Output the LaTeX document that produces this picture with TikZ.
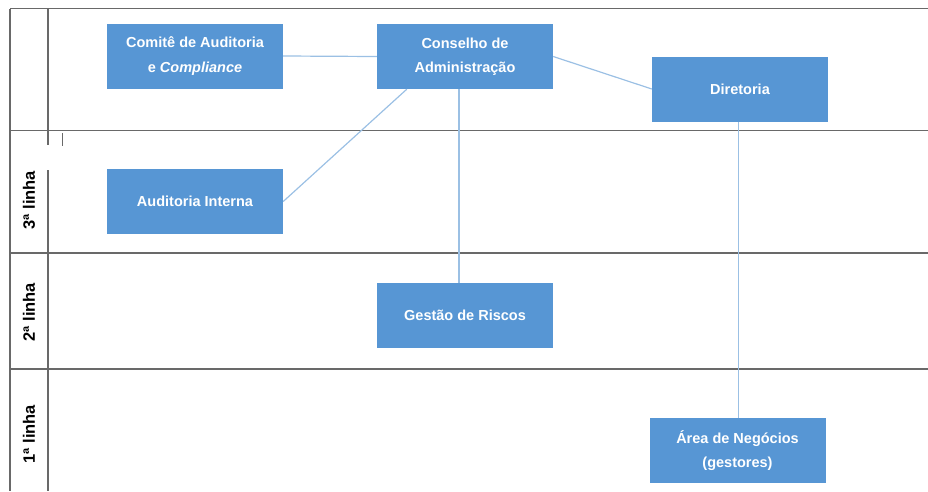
\documentclass[tikz,border=0pt]{standalone}
\usepackage{fontspec}
\setmainfont{Liberation Sans}
\definecolor{BoxBlue}{RGB}{87,150,212}
\definecolor{LinkBlue}{RGB}{155,192,228}
\definecolor{GridGray}{RGB}{105,105,105}
\usetikzlibrary{positioning,calc}
\tikzset{orgbox/.style={rectangle,fill=BoxBlue,text=white,minimum width=176pt,minimum height=65pt,inner sep=0pt,align=center,font=\bfseries\fontsize{14.5}{24.5}\selectfont}}
\tikzset{orglink/.style={LinkBlue,line width=1.2pt}}
\tikzset{gridline/.style={GridGray,line width=1.8pt}}
\tikzset{rowlabel/.style={rotate=90,font=\bfseries\fontsize{16.5}{18}\selectfont}}

\begin{document}
\begin{tikzpicture}[x=1pt,y=-1pt]
                \useasboundingbox (0,0) rectangle (928,491);
                % table
                \draw[gridline] (10,8.5) -- (928,8.5);
                \foreach \y in {130.5,253,369} {
                    \draw[gridline] (10,\y) -- (928,\y);
                }
                \draw[gridline] (10,8.5) -- (10,491);
                \draw[gridline] (48,8.5) -- (48,145);
                \draw[gridline] (48,170) -- (48,491);
                \draw[GridGray,line width=0.8pt] (62,133) -- (62,146);
                \node[rowlabel] (l3) at (29,200) {3ª linha};
                \node[rowlabel] (l2) at (29,312) {2ª linha};
                \node[rowlabel] (l1) at (29,434) {1ª linha};
                % boxes
                \node[orgbox] (comite) at (195,56) {Comitê de Auditoria\\e \textit{Compliance}};
                \node[orgbox] (conselho) at (465,56.5) {Conselho de\\Administração};
                \node[orgbox] (diretoria) at (740,89) {Diretoria};
                \node[orgbox] (auditoria) at (195,201.5) {Auditoria Interna};
                \node[orgbox] (gestao) at (465,315.5) {Gestão de Riscos};
                \node[orgbox] (negocios) at (737.5,450.5) {Área de Negócios\\(gestores)};
                % links
                \draw[orglink] (comite.east) -- (conselho.west);
                \draw[orglink] (conselho.east) -- (diretoria.west);
                \draw[orglink] ($(conselho.south west)!0.17!(conselho.south east)$) -- (auditoria.east);
                \draw[orglink] ([xshift=-6pt]conselho.south) -- ([xshift=-6pt]conselho.south |- gestao.north);
                \draw[orglink] ([xshift=-1.5pt]diretoria.south) -- ([xshift=-1.5pt]diretoria.south |- negocios.north);
            \end{tikzpicture}
\end{document}
